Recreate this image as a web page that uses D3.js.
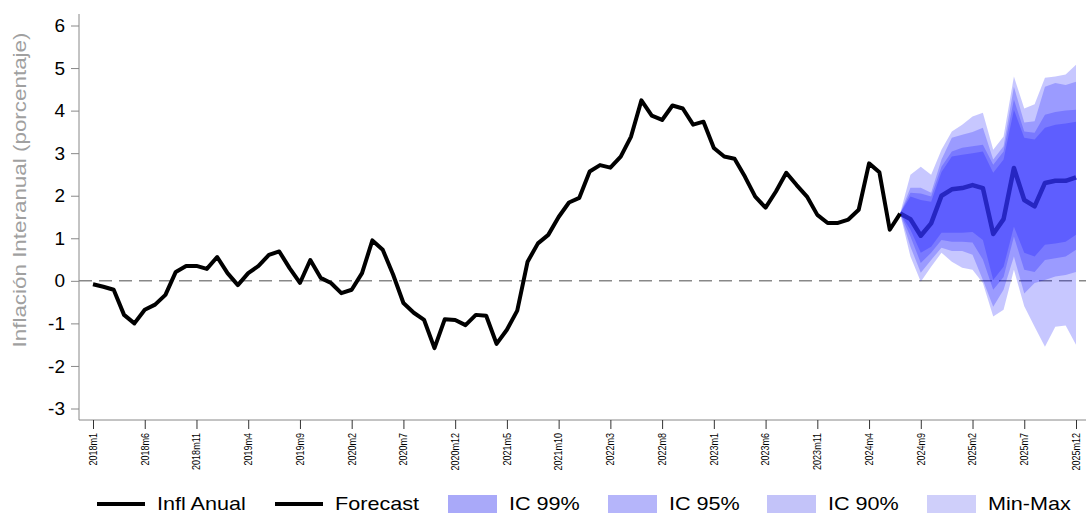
<!DOCTYPE html>
<html>
<head>
<meta charset="utf-8">
<script src="https://cdn.jsdelivr.net/npm/d3@7"></script>
<style>
  body { margin: 0; background: #fff; }
  svg { display: block; font-family: "Liberation Sans", Arial, sans-serif; }
</style>
</head>
<body>
<svg id="chart" width="1086" height="515"></svg>
<script>
// monthly categories 2018m1 .. 2025m12
const months = [];
for (let yr = 2018; yr <= 2025; yr++) for (let m = 1; m <= 12; m++) months.push(yr + "m" + m);

const tickLabels = ["2018m1", "2018m6", "2018m11", "2019m4", "2019m9", "2020m2", "2020m7",
  "2020m12", "2021m5", "2021m10", "2022m3", "2022m8", "2023m1", "2023m6", "2023m11",
  "2024m4", "2024m9", "2025m2", "2025m7", "2025m12"];
const yTicks = [6, 5, 4, 3, 2, 1, 0, -1, -2, -3];

// observed annual inflation, 2018m1 .. 2024m7
const inflAnual = [-0.08, -0.14, -0.21, -0.8, -1.0, -0.68, -0.56, -0.33, 0.21, 0.35,
  0.35, 0.28, 0.56, 0.18, -0.1, 0.18, 0.35, 0.61, 0.69, 0.3,
  -0.05, 0.49, 0.07, -0.05, -0.29, -0.21, 0.18, 0.95, 0.73, 0.15,
  -0.52, -0.75, -0.92, -1.58, -0.9, -0.92, -1.04, -0.8, -0.82, -1.48,
  -1.15, -0.7, 0.45, 0.88, 1.08, 1.5, 1.84, 1.95, 2.57, 2.72,
  2.66, 2.92, 3.39, 4.24, 3.88, 3.78, 4.12, 4.05, 3.67, 3.74,
  3.12, 2.92, 2.87, 2.45, 1.98, 1.72, 2.1, 2.54, 2.25, 1.98,
  1.55, 1.36, 1.36, 1.44, 1.67, 2.76, 2.55, 1.2, 1.58];

// forecast, 2024m7 .. 2025m12
const forecast = [1.58, 1.45, 1.06, 1.35, 2.0, 2.15, 2.18, 2.25, 2.18, 1.1, 1.45, 2.65, 1.9, 1.75, 2.3, 2.35, 2.35, 2.43];
const minMaxHi = [1.58, 2.49, 2.68, 2.49, 3.08, 3.51, 3.67, 3.86, 3.95, 3.08, 3.39, 4.8, 4.05, 4.15, 4.77, 4.8, 4.85, 5.08];
const minMaxLo = [1.58, 0.57, -0.02, 0.33, 0.66, 0.45, 0.31, 0.26, -0.05, -0.84, -0.68, 0.26, -0.6, -1.08, -1.55, -1.08, -1.05, -1.5];
const ic99Hi = [1.58, 2.19, 2.19, 2.07, 2.85, 3.36, 3.43, 3.5, 3.6, 2.85, 3.16, 4.56, 3.72, 3.75, 4.56, 4.65, 4.6, 4.68];
const ic99Lo = [1.58, 0.8, 0.19, 0.49, 0.78, 0.7, 0.7, 0.61, 0.02, -0.61, -0.21, 0.57, -0.3, -0.05, 0.02, 0.1, 0.14, 0.21];
const ic95Hi = [1.58, 2.07, 2.05, 1.98, 2.68, 3.04, 3.13, 3.16, 3.2, 2.73, 3.04, 4.26, 3.51, 3.48, 3.9, 3.97, 4.0, 4.02];
const ic95Lo = [1.58, 1.04, 0.42, 0.66, 0.96, 0.92, 0.92, 0.9, 0.5, -0.21, 0.09, 1.04, 0.26, 0.21, 0.49, 0.53, 0.57, 0.73];
const ic90Hi = [1.58, 1.98, 1.9, 1.86, 2.56, 2.92, 2.96, 3.0, 3.04, 2.54, 2.85, 4.02, 3.36, 3.32, 3.6, 3.67, 3.7, 3.74];
const ic90Lo = [1.58, 1.2, 0.66, 0.8, 1.13, 1.13, 1.13, 1.15, 0.96, 0.02, 0.33, 1.27, 0.66, 0.57, 0.85, 0.88, 0.92, 1.08];

const forecastStart = months.indexOf("2024m7");
const fcMonths = months.slice(forecastStart);

const legendItems = [
  { label: "Infl Anual", type: "line", color: "#000", x: 97 },
  { label: "Forecast", type: "line", color: "#000", x: 275 },
  { label: "IC 99%", type: "box", color: "#a9a9f9", x: 448 },
  { label: "IC 95%", type: "box", color: "#b5b5fa", x: 608 },
  { label: "IC 90%", type: "box", color: "#c3c3f9", x: 767 },
  { label: "Min-Max", type: "box", color: "#cfcffa", x: 927 },
];

const svg = d3.select("#chart");
const plotLeft = 79, plotRight = 1086, plotTop = 14, plotBottom = 420;

const x = d3.scalePoint().domain(months).range([93, 1076]);
const y = d3.scaleLinear().domain([-3, 6]).range([408.5, 25.5]);

// y axis
const yAxis = svg.append("g")
  .attr("transform", `translate(${plotLeft},0)`)
  .call(d3.axisLeft(y).tickValues(yTicks).tickSize(8).tickPadding(6).tickFormat((d) => String(d)));
yAxis.select(".domain").attr("d", `M0,${plotTop}V${plotBottom}`).attr("stroke", "#888");
yAxis.selectAll(".tick line").attr("stroke", "#888");
yAxis.selectAll(".tick text").attr("font-size", 19).attr("fill", "#000")
  .attr("font-family", "Liberation Sans, Arial, sans-serif");

// x axis
const xAxis = svg.append("g")
  .attr("transform", `translate(0,${plotBottom})`)
  .call(d3.axisBottom(x).tickValues(tickLabels).tickSize(9).tickPadding(0));
xAxis.select(".domain").attr("d", `M${plotLeft},0H${plotRight}`).attr("stroke", "#888");
xAxis.selectAll(".tick line").attr("stroke", "#333");
xAxis.selectAll(".tick text")
  .attr("font-size", 9.5)
  .attr("font-family", "Liberation Sans Narrow, Liberation Sans, Arial, sans-serif")
  .attr("fill", "#000")
  .attr("text-anchor", "end")
  .attr("transform", "translate(0,13) rotate(-90) scale(0.95,1.1)")
  .attr("dy", "0.32em")
  .attr("y", 0)
  .attr("x", 0);

// y title
svg.append("text")
  .attr("transform", "translate(26,190) rotate(-90)")
  .attr("text-anchor", "middle")
  .attr("font-size", 19)
  .attr("fill", "#a0a0a0")
  .attr("textLength", 315)
  .attr("lengthAdjust", "spacingAndGlyphs")
  .text("Inflación Interanual (porcentaje)");

// zero reference line
svg.append("line")
  .attr("x1", plotLeft).attr("x2", plotRight)
  .attr("y1", y(0)).attr("y2", y(0))
  .attr("stroke", "#888").attr("stroke-width", 1.5)
  .attr("stroke-dasharray", "13,7");

const line = d3.line().x((d) => x(d.m)).y((d) => y(d.v));

// bands
const bands = [
  { name: "Min-Max", hi: minMaxHi, lo: minMaxLo },
  { name: "IC 99%", hi: ic99Hi, lo: ic99Lo },
  { name: "IC 95%", hi: ic95Hi, lo: ic95Lo },
  { name: "IC 90%", hi: ic90Hi, lo: ic90Lo },
];
const area = d3.area().x((d) => x(d.m)).y0((d) => y(d.lo)).y1((d) => y(d.hi));
svg.append("g").selectAll("path")
  .data(bands)
  .join("path")
  .attr("d", (b) => area(fcMonths.map((m, i) => ({ m, lo: b.lo[i], hi: b.hi[i] }))))
  .attr("fill", "#0000ff")
  .attr("fill-opacity", 0.22);

// forecast line
svg.append("path")
  .datum(fcMonths.map((m, i) => ({ m, v: forecast[i] })))
  .attr("d", line)
  .attr("fill", "none").attr("stroke", "#2626c2").attr("stroke-width", 4.5)
  .attr("stroke-linejoin", "round");

// history line
svg.append("path")
  .datum(inflAnual.map((v, i) => ({ m: months[i], v })))
  .attr("d", line)
  .attr("fill", "none").attr("stroke", "#000").attr("stroke-width", 4)
  .attr("stroke-linejoin", "round");

// legend
const legY = 504;
const leg = svg.append("g").selectAll("g")
  .data(legendItems)
  .join("g")
  .attr("transform", (d) => `translate(${d.x},${legY})`);
leg.filter((d) => d.type === "line").append("line")
  .attr("x1", 0).attr("x2", 48).attr("y1", 0).attr("y2", 0)
  .attr("stroke", "#000").attr("stroke-width", 4);
leg.filter((d) => d.type === "box").append("rect")
  .attr("x", 0).attr("y", -9).attr("width", 49).attr("height", 18)
  .attr("fill", (d) => d.color);
leg.append("text")
  .attr("transform", (d) => `translate(${d.type === "line" ? 60 : 61},0) scale(1.2,1)`)
  .attr("dy", "0.36em")
  .attr("font-size", 18)
  .attr("fill", "#000")
  .text((d) => d.label);
</script>
</body>
</html>
